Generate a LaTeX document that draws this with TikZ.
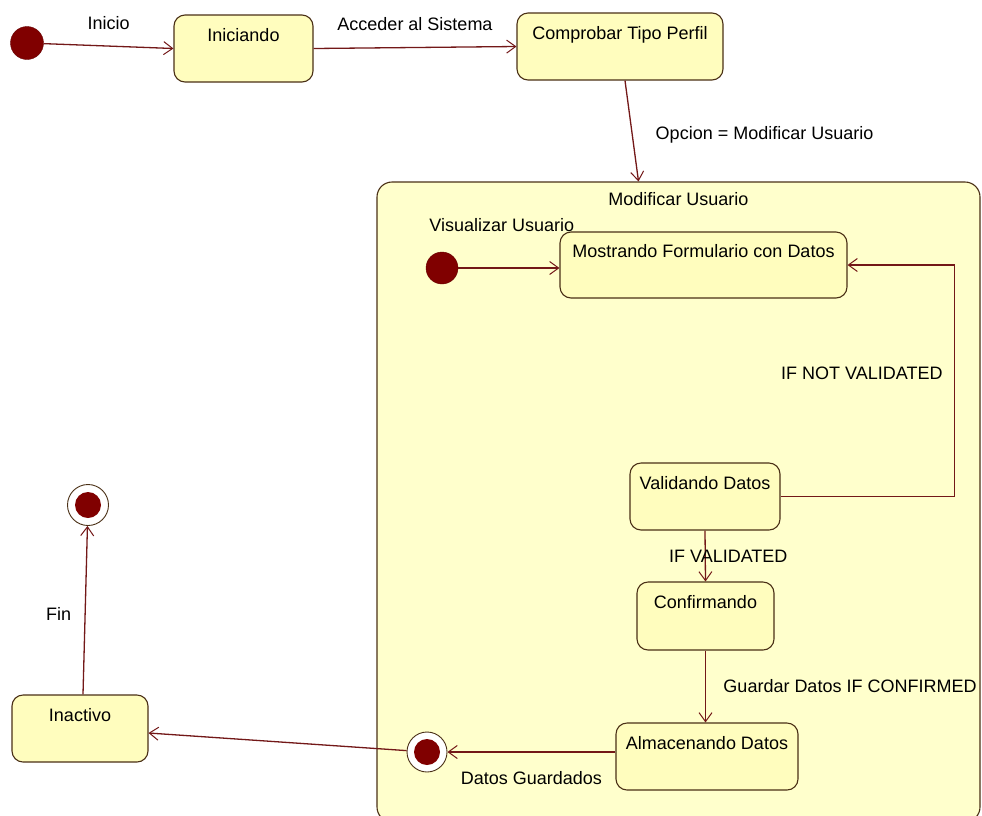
\documentclass[tikz,border=0pt]{standalone}
\usepackage{fontspec}
\setmainfont{Liberation Sans}
\usepackage{xcolor}
\definecolor{crema}{RGB}{255, 255, 204}
\definecolor{cremaest}{RGB}{255, 253, 190}
\definecolor{borde}{RGB}{74, 48, 22}
\definecolor{flecha}{RGB}{115, 24, 24}
\definecolor{granate}{RGB}{128, 0, 0}
\usetikzlibrary{arrows.meta,positioning}

\tikzset{
    estado/.style={draw=borde, fill=cremaest, line width=1.1pt, rounded corners=11pt,
        text height=12pt, text depth=27pt, inner sep=2pt},
    inicial/.style={circle, fill=granate, draw=granate!80!black, minimum size=33pt, inner sep=0pt},
    final/.style={circle, draw=borde, fill=white, line width=0.9pt, minimum size=41pt, inner sep=0pt,
        path picture={\fill[granate] (path picture bounding box.center) circle (13pt);}},
    trans/.style={draw=flecha, line width=1.3pt, -{Straight Barb[length=9pt, width=13pt, line width=1pt]}},
    etiq/.style={text=black}
}

\begin{document}
\begin{tikzpicture}[x=1pt, y=-1pt, font=\fontsize{18}{21}\selectfont]
    \useasboundingbox (0, 0) rectangle (982, 815);
    \fill[white] (0, 0) rectangle (982, 815);

    % Estado compuesto
    \node[draw=borde, fill=crema, line width=1.1pt, rounded corners=15pt,
        minimum width=603pt, minimum height=640pt, inner sep=0pt] (modificar) at (678.5, 502) {};
    \node[etiq, below=7pt] at (modificar.north) {Modificar Usuario};

    % Estados externos
    \node[inicial] (ini) at (27, 43) {};
    \node[estado, minimum width=139pt, minimum height=67pt] (iniciando) at (243.5, 48.5) {Iniciando};
    \node[estado, minimum width=206pt, minimum height=67pt] (comprobar) at (620, 46.5) {Comprobar Tipo Perfil};
    \node[estado, minimum width=136pt, minimum height=67pt] (inactivo) at (80, 728.5) {Inactivo};
    \node[final] (fin) at (88, 505) {};

    % Estados internos
    \node[inicial, minimum size=32pt] (iniInt) at (442, 268) {};
    \node[estado, minimum width=287pt, minimum height=66pt] (mostrando) at (703.5, 265) {Mostrando Formulario con Datos};
    \node[estado, minimum width=150pt, minimum height=67pt] (validando) at (705, 496.5) {Validando Datos};
    \node[estado, minimum width=137pt, minimum height=68pt] (confirmando) at (705.5, 616) {Confirmando};
    \node[estado, minimum width=182pt, minimum height=67pt] (almacenando) at (707, 756.5) {Almacenando Datos};
    \node[final, minimum size=40pt] (finInt) at (427, 752) {};

    % Transiciones
    \draw[trans] (ini) -- (iniciando.west) node[midway, above=12pt, etiq] {Inicio};
    \draw[trans] (iniciando.east) -- (comprobar.west) node[midway, above=13pt, etiq] {Acceder al Sistema};
    \draw[trans] ([xshift=5pt]comprobar.south) -- ([xshift=-40pt]modificar.north)
        node[midway, right=20pt, yshift=-4pt, etiq] {Opcion = Modificar Usuario};
    \draw[trans] (iniInt) -- (mostrando.west |- iniInt) node[midway, above=32pt, xshift=-7pt, etiq] {Visualizar Usuario};
    \draw[trans] (validando.east) -- ++(174, 0) |- node[pos=0.267, left=8pt, etiq] {IF NOT VALIDATED} (mostrando.east);
    \draw[trans] (validando.south) -- (confirmando.north) node[midway, xshift=23pt, etiq] {IF VALIDATED};
    \draw[trans] (confirmando.south) -- (confirmando.south |- almacenando.north)
        node[midway, right=14pt, etiq] {Guardar Datos IF CONFIRMED};
    \draw[trans] (almacenando.west |- finInt) -- (finInt) node[midway, below=15pt, etiq] {Datos Guardados};
    \draw[trans] (finInt) -- ([yshift=-4.5pt]inactivo.east);
    \draw[trans] ([xshift=3pt]inactivo.north) -- (fin) node[midway, left=10pt, yshift=-4pt, etiq] {Fin};
\end{tikzpicture}
\end{document}
